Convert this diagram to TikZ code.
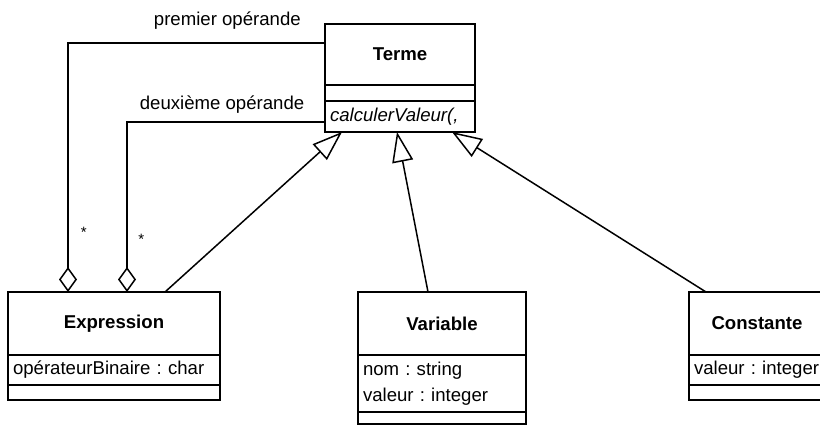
\documentclass[tikz,border=0pt]{standalone}
\usepackage{fontspec}
\setmainfont{Liberation Sans}
\usetikzlibrary{arrows.meta,positioning}
\frenchspacing

\begin{document}
\begin{tikzpicture}[x=1pt,y=1pt,line width=1.5pt,
	font=\fontsize{18.6}{26}\selectfont,
	box/.style={draw,outer sep=0pt,inner xsep=5pt,inner ysep=0pt,align=left},
	classname/.style={box,align=center,font=\fontsize{18.6}{26}\selectfont\bfseries},
	inherit/.style={-{Triangle[open,length=30pt,width=21pt]}},
	aggr/.style={-{Diamond[open,length=25pt,width=18pt]}},
	lbl/.style={inner sep=0pt},
	mult/.style={inner sep=0pt,font=\fontsize{15}{15}\selectfont}]
	
	\useasboundingbox (0,0) rectangle (820,425);
	
	% draw the Terme class
	\node[classname,minimum width=150pt,minimum height=61pt] (terme) at (400,370.5) {Terme};
	\node[box,text width=140pt,minimum height=16pt,below=0pt of terme] (termeAttr) {};
	\node[box,text width=140pt,minimum height=31pt,below=0pt of termeAttr] (termeOps) {\itshape\mbox{calculerValeur(,}};
	
	% draw the Expression class
	\node[classname,minimum width=212pt,minimum height=63pt] (expr) at (114,101.5) {Expression};
	\node[box,text width=202pt,minimum height=30pt,below=0pt of expr] (exprAttr) {\mbox{opérateurBinaire : char}};
	\node[box,text width=202pt,minimum height=15pt,below=0pt of exprAttr] (exprOps) {};
	
	% draw the Variable class
	\node[classname,minimum width=168pt,minimum height=63pt] (variable) at (442,101.5) {Variable};
	\node[box,text width=158pt,minimum height=57pt,below=0pt of variable] (variableAttr) {nom : string\\valeur : integer};
	\node[box,text width=158pt,minimum height=12pt,below=0pt of variableAttr] (variableOps) {};
	
	% draw the Constante class
	\node[classname,minimum width=136pt,minimum height=63pt] (constante) at (757,101.5) {Constante};
	\node[box,text width=126pt,minimum height=30pt,below=0pt of constante] (constanteAttr) {\mbox{valeur : integer}};
	\node[box,text width=126pt,minimum height=15pt,below=0pt of constanteAttr] (constanteOps) {};
	
	% inheritance towards Terme
	\draw[inherit] ([xshift=157pt]expr.north west) -- ([xshift=17pt]termeOps.south west);
	\draw[inherit] ([xshift=70pt]variable.north west) -- ([xshift=72pt]termeOps.south west);
	\draw[inherit] ([xshift=17pt]constante.north west) -- ([xshift=127pt]termeOps.south west);
	
	% the two operands of an Expression
	\draw[aggr] ([yshift=-19pt]terme.north west) -| ([xshift=60pt]expr.north west)
		node[lbl,pos=0.19,above=13pt] (premier) {premier opérande}
		node[mult,pos=0.88,right=12pt] (multPremier) {*};
	\draw[aggr] ([yshift=-98pt]terme.north west) -| ([xshift=119pt]expr.north west)
		node[lbl,pos=0.26,above=8pt] (deuxieme) {deuxième opérande}
		node[mult,pos=0.844,right=10.5pt] (multDeuxieme) {*};
	
\end{tikzpicture}
\end{document}
